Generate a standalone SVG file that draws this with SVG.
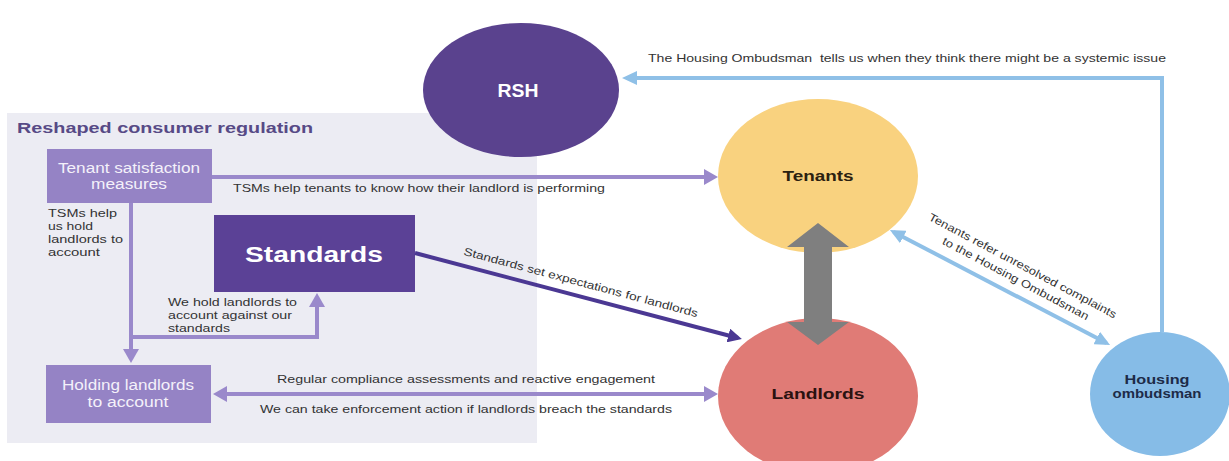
<svg xmlns="http://www.w3.org/2000/svg" width="1229" height="461" viewBox="0 0 1229 461">
  <defs>
    <style>
      text { font-family: "Liberation Sans", Arial, sans-serif; }
      .lbl { font-size: 11px; fill: #333333; }
      .box { fill: #9583c5; }
      .boxtxt { font-size: 14px; fill: #f4f1fa; text-anchor: middle; }
      .node { font-weight: bold; text-anchor: middle; }
      .lp { stroke: #9a89cb; stroke-width: 4; fill: none; }
      .dp { stroke: #4b3893; stroke-width: 4; fill: none; }
      .bl { stroke: #8fc0e7; stroke-width: 4; fill: none; }
    </style>
    <marker id="mPurple" markerUnits="userSpaceOnUse" viewBox="0 0 14 16" refX="10" refY="8" markerWidth="14" markerHeight="16" orient="auto-start-reverse">
      <path d="M0,0 L14,8 L0,16 z" fill="#9a89cb"/>
    </marker>
    <marker id="mDark" markerUnits="userSpaceOnUse" viewBox="0 0 14 14" refX="10" refY="7" markerWidth="14" markerHeight="14" orient="auto-start-reverse">
      <path d="M0,0 L14,7 L0,14 z" fill="#4b3893"/>
    </marker>
    <marker id="mBlue" markerUnits="userSpaceOnUse" viewBox="0 0 15 14" refX="11" refY="7" markerWidth="15" markerHeight="14" orient="auto-start-reverse">
      <path d="M0,0 L15,7 L0,14 z" fill="#8fc0e7"/>
    </marker>
  </defs>

  <rect width="1229" height="461" fill="#ffffff"/>

  <!-- consumer regulation panel -->
  <g id="panel">
    <rect x="7" y="113" width="530" height="330" fill="#ececf3"/>
    <text x="17" y="133" font-size="15" font-weight="bold" fill="#574a86" textLength="296" lengthAdjust="spacingAndGlyphs">Reshaped consumer regulation</text>
  </g>

  <g id="tsm">
    <rect class="box" x="47" y="149" width="165" height="54"/>
    <text class="boxtxt" x="129" y="173" textLength="142" lengthAdjust="spacingAndGlyphs">Tenant satisfaction</text>
    <text class="boxtxt" x="129" y="189" textLength="76" lengthAdjust="spacingAndGlyphs">measures</text>
  </g>

  <g id="standards">
    <rect x="214" y="215" width="201" height="77" fill="#5b4196"/>
    <text class="node" x="314" y="262" font-size="22" fill="#ffffff" textLength="138" lengthAdjust="spacingAndGlyphs">Standards</text>
  </g>

  <g id="holding">
    <rect class="box" x="46" y="365" width="165" height="58"/>
    <text class="boxtxt" x="128" y="390" textLength="132" lengthAdjust="spacingAndGlyphs">Holding landlords</text>
    <text class="boxtxt" x="128" y="407" textLength="81" lengthAdjust="spacingAndGlyphs">to account</text>
  </g>

  <g id="rsh">
    <ellipse cx="521" cy="90" rx="98" ry="67" fill="#5a428e"/>
    <text class="node" x="518" y="97" font-size="18" fill="#ffffff" textLength="41" lengthAdjust="spacingAndGlyphs">RSH</text>
  </g>

  <g id="tenants">
    <ellipse cx="818" cy="176" rx="100" ry="77" fill="#f9d27f"/>
    <text class="node" x="818" y="181" font-size="14" fill="#2b2110" textLength="71" lengthAdjust="spacingAndGlyphs">Tenants</text>
  </g>

  <g id="landlords">
    <ellipse cx="818" cy="396" rx="100" ry="78" fill="#e07b76"/>
    <text class="node" x="818" y="399" font-size="15" fill="#2b1210" textLength="93" lengthAdjust="spacingAndGlyphs">Landlords</text>
  </g>

  <g id="ombudsman">
    <ellipse cx="1160" cy="394" rx="70" ry="62" fill="#86bce7"/>
    <text class="node" x="1157" y="384" font-size="13" fill="#1d2b48" textLength="65" lengthAdjust="spacingAndGlyphs">Housing</text>
    <text class="node" x="1157" y="398" font-size="13" fill="#1d2b48" textLength="89" lengthAdjust="spacingAndGlyphs">ombudsman</text>
  </g>

  <!-- connectors and their labels -->
  <g id="connectors">
    <line class="lp" x1="212" y1="177" x2="714" y2="177" marker-end="url(#mPurple)"/>
    <text class="lbl" x="233" y="192" textLength="372" lengthAdjust="spacingAndGlyphs">TSMs help tenants to know how their landlord is performing</text>

    <line class="lp" x1="131" y1="203" x2="131" y2="359" marker-end="url(#mPurple)"/>
    <text class="lbl" x="48" y="217" textLength="69" lengthAdjust="spacingAndGlyphs">TSMs help</text>
    <text class="lbl" x="48" y="230" textLength="45" lengthAdjust="spacingAndGlyphs">us hold</text>
    <text class="lbl" x="48" y="243" textLength="75" lengthAdjust="spacingAndGlyphs">landlords to</text>
    <text class="lbl" x="48" y="256" textLength="52" lengthAdjust="spacingAndGlyphs">account</text>

    <path class="lp" d="M129,337 H317 V297" marker-end="url(#mPurple)"/>
    <text class="lbl" x="168" y="306" textLength="129" lengthAdjust="spacingAndGlyphs">We hold landlords to</text>
    <text class="lbl" x="168" y="319" textLength="124" lengthAdjust="spacingAndGlyphs">account against our</text>
    <text class="lbl" x="168" y="332" textLength="62" lengthAdjust="spacingAndGlyphs">standards</text>

    <line class="lp" x1="217" y1="394" x2="714" y2="394" marker-start="url(#mPurple)" marker-end="url(#mPurple)"/>
    <text class="lbl" x="466" y="383" text-anchor="middle" textLength="378" lengthAdjust="spacingAndGlyphs">Regular compliance assessments and reactive engagement</text>
    <text class="lbl" x="466" y="413" text-anchor="middle" textLength="412" lengthAdjust="spacingAndGlyphs">We can take enforcement action if landlords breach the standards</text>

    <line class="dp" x1="415" y1="253" x2="738" y2="338" marker-end="url(#mDark)"/>
    <text class="lbl" transform="translate(580,286) rotate(15)" text-anchor="middle" textLength="242" lengthAdjust="spacingAndGlyphs">Standards set expectations for landlords</text>

    <path class="bl" d="M1162,332 V78 H626" marker-end="url(#mBlue)"/>
    <text class="lbl" x="648" y="62" textLength="518" lengthAdjust="spacingAndGlyphs">The Housing Ombudsman&#160; tells us when they think there might be a systemic issue</text>

    <line class="bl" x1="893.5" y1="231.9" x2="1106.5" y2="343.1" marker-start="url(#mBlue)" marker-end="url(#mBlue)"/>
    <text class="lbl" transform="translate(1021,269) rotate(28)" text-anchor="middle" textLength="211" lengthAdjust="spacingAndGlyphs">Tenants refer unresolved complaints</text>
    <text class="lbl" transform="translate(1014,282) rotate(28)" text-anchor="middle" textLength="164" lengthAdjust="spacingAndGlyphs">to the Housing Ombudsman</text>

    <polygon points="818,223 849,247 832,247 832,322 849,322 818,345 787,322 804,322 804,247 787,247" fill="#7f7f7f"/>
  </g>
</svg>
